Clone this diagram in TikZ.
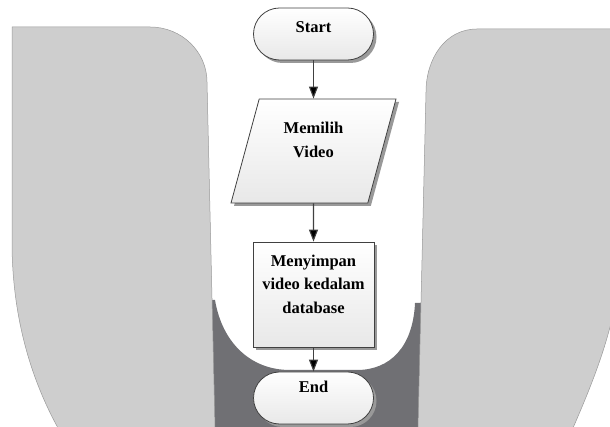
\documentclass[tikz,border=0pt]{standalone}
\usepackage{fontspec}
\setmainfont{Liberation Serif}
\usetikzlibrary{shapes.geometric,shadows,arrows.meta}
\definecolor{bandgray}{RGB}{112,112,116}
\definecolor{sidegray}{RGB}{206,206,206}
\definecolor{flowline}{RGB}{64,64,64}
\tikzset{
  terminal/.style={rectangle,rounded corners=26pt,minimum width=120pt,minimum height=52pt},
  process/.style={rectangle,minimum width=121pt,minimum height=105pt},
  inout/.style={trapezium,trapezium left angle=66.6,trapezium right angle=113.4,
    trapezium stretches body,minimum width=165pt,minimum height=104pt},
  box/.style={draw=flowline,line width=0.8pt,top color=white,bottom color=black!9,
    drop shadow={shadow xshift=3pt,shadow yshift=-3pt,fill=black!40,opacity=1},
    font=\fontsize{16.5}{23.5}\selectfont\bfseries,align=center,text height=12pt},
  side/.style={fill=sidegray,draw=black!40,line width=0.5pt}
}
\begin{document}
\begin{tikzpicture}[x=1pt,y=1pt,>={Triangle[length=12pt,width=9pt]},node distance=117pt]
\useasboundingbox (0,0) rectangle (610,427);
\clip (0,0) rectangle (610,427);

% background
\fill[bandgray] (205,0) -- (205,127) -- (215,127) .. controls (222,85) and (250,57) .. (290,57)
  -- (357,57) .. controls (390,57) and (413,80) .. (415,124) -- (425,124) -- (425,0) -- cycle;
\draw[side] (12,400) -- (150,400) .. controls (182,400) and (207,375) .. (207,345)
  -- (215,-1) -- (58,-1) .. controls (30,50) and (13,110) .. (12,180) -- cycle;
\draw[side] (622,398) -- (477,398) .. controls (445,398) and (426,368) .. (426,335)
  -- (418,-1) -- (573,-1) .. controls (595,50) and (620,110) .. (622,180) -- cycle;

% flowchart
\node[box,terminal,text depth=14pt](start) at (313.5,393){Start};
\node[box,inout,text height=35.5pt,text depth=23pt](video)[below of=start]{Memilih\\Video};
\node[box,process,text height=59pt,text depth=21pt](save)[node distance=143.5pt,below of=video]{Menyimpan\\video kedalam\\database};
\node[box,terminal,text depth=22pt](end)[node distance=103.5pt,below of=save]{End};

\path[draw=flowline,line width=1.1pt,->] (start) edge (video)
  (video) edge (save)
  (save) edge (end);

\end{tikzpicture}
\end{document}
